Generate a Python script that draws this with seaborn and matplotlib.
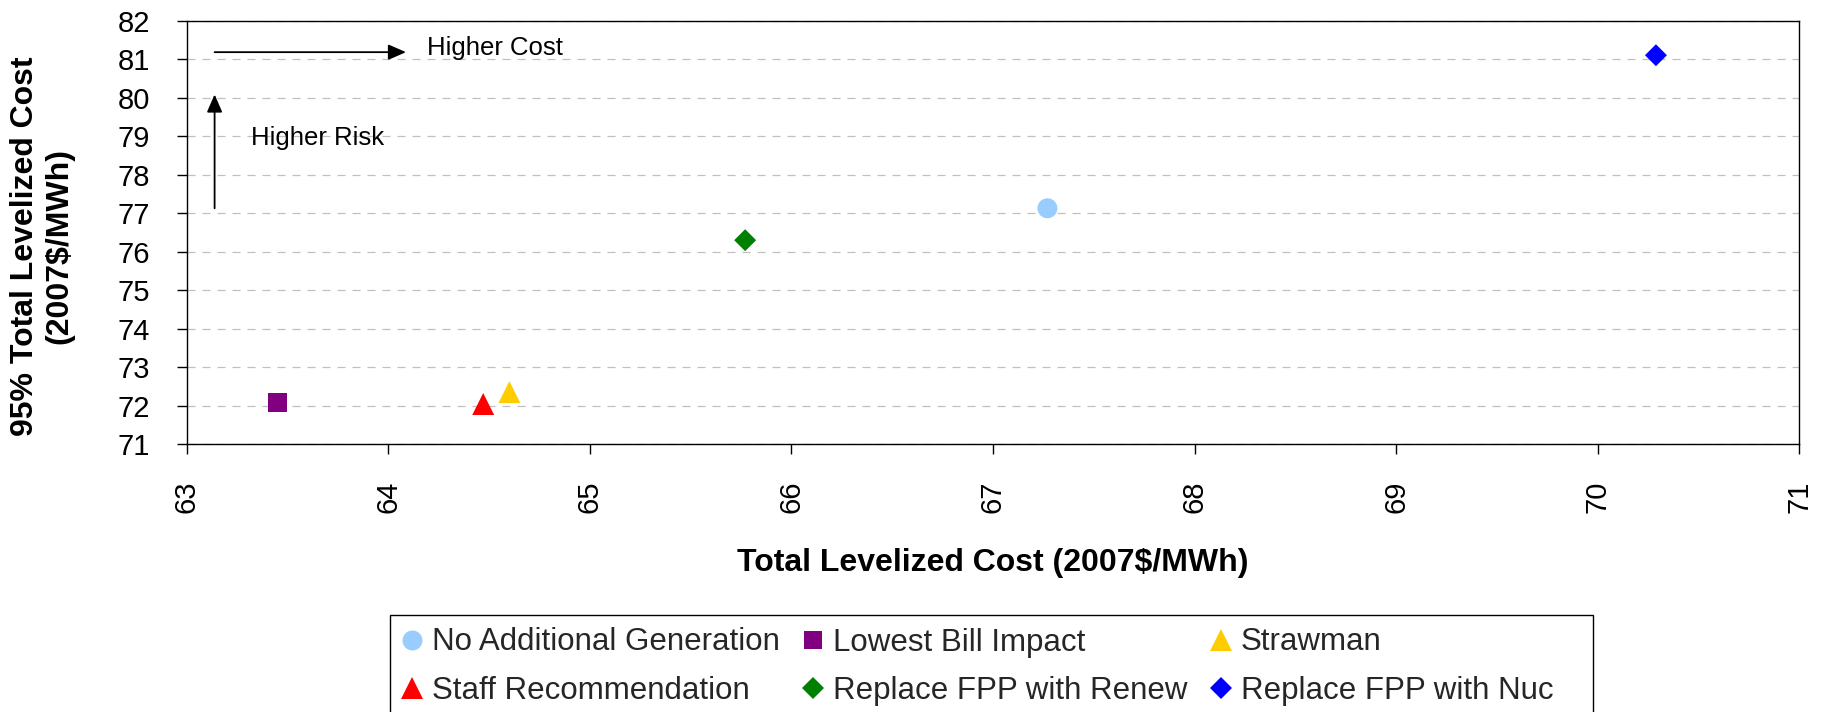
import numpy as np
import pandas as pd
import matplotlib
matplotlib.use("Agg")
import matplotlib.pyplot as plt
import seaborn as sns
from matplotlib.lines import Line2D
from matplotlib.patches import Rectangle

# ---- data ----
names = ["No Additional Generation", "Lowest Bill Impact", "Strawman",
         "Staff Recommendation", "Replace FPP with Renew", "Replace FPP with Nuc"]
total_cost = [67.27, 63.45, 64.60, 64.47, 65.77, 70.29]
risk_cost = [77.13, 72.07, 72.35, 72.04, 76.30, 81.11]
colors = ["#99CCFF", "#800080", "#FFCC00", "#FF0000", "#008000", "#0000FF"]
marker_shapes = ["o", "s", "^", "^", "D", "D"]
marker_areas = [207, 187, 250, 250, 125, 125]
x_ticks = list(range(63, 72))
y_ticks = list(range(71, 83))

df = pd.DataFrame({"name": names, "cost": total_cost, "risk": risk_cost})

sns.set_theme(style="white")
plt.rcParams["font.family"] = ["Liberation Sans", "DejaVu Sans"]
plt.rcParams["lines.scale_dashes"] = False

fig = plt.figure(figsize=(18.22, 7.12), dpi=100)
ax = fig.add_axes([0.10263, 0.37640, 0.88475, 0.59410])

sns.scatterplot(data=df, x="cost", y="risk", hue="name", style="name", size="name",
                palette=dict(zip(names, colors)),
                markers=dict(zip(names, marker_shapes)),
                sizes=dict(zip(names, marker_areas)),
                linewidth=0, legend=False, ax=ax, zorder=3)

ax.set_xlim(63, 71)
ax.set_ylim(71, 82)
ax.set_xticks(x_ticks)
ax.set_yticks(y_ticks)
ax.yaxis.grid(True, color="#C0C0C0", linestyle=(0, (5.8, 5.0)), linewidth=0.9)
ax.xaxis.grid(False)
ax.set_axisbelow(True)
for sp in ax.spines.values():
    sp.set_visible(True)
    sp.set_color("black")
    sp.set_linewidth(1.0)

ax.tick_params(axis="both", direction="out", length=7, width=1, color="black",
               labelsize=21, pad=19.5, bottom=True, left=True, labelcolor="black")
ax.tick_params(axis="x", labelrotation=90)

ax.set_xlabel("Total Levelized Cost (2007$/MWh)", fontsize=23, fontweight="bold", color="black")
ax.xaxis.set_label_coords(0.5, -0.2813)
ax.xaxis.label.set_va("center")
ax.set_ylabel("95% Total Levelized Cost\n(2007$/MWh)", fontsize=23, fontweight="bold", color="black")
ax.yaxis.set_label_coords(-0.0896, 0.468)
ax.yaxis.label.set_va("center")

arrow_style = dict(arrowstyle="-|>,head_length=0.54,head_width=0.235", mutation_scale=20,
                   color="black", lw=1.3, shrinkA=0, shrinkB=0)
ax.annotate("", xy=(64.087, 81.19), xytext=(63.137, 81.19), arrowprops=arrow_style)
ax.annotate("", xy=(63.137, 80.09), xytext=(63.137, 77.13), arrowprops=arrow_style)
ax.text(64.19, 81.31, "Higher Cost", fontsize=18.5, va="center", ha="left", color="black")
ax.text(63.32, 78.95, "Higher Risk", fontsize=18.5, va="center", ha="left", color="black")

handles = [Line2D([], [], linestyle="none", marker=m, color=c, markeredgewidth=0,
                  markersize=np.sqrt(a)) for m, c, a in zip(marker_shapes, colors, marker_areas)]
order = [0, 3, 1, 4, 2, 5]
leg = ax.legend([handles[i] for i in order], [names[i] for i in order], ncol=3,
                loc="upper left", bbox_to_anchor=(390 / 1822, 1 - 615 / 712),
                bbox_transform=fig.transFigure, borderaxespad=0, frameon=False,
                fontsize=22.5, handlelength=0.6, handletextpad=0.35, columnspacing=0.75,
                labelspacing=0.6, borderpad=0.4)

# legend frame (extends past the bottom edge of the figure, as in the original)
fig.patches.append(Rectangle((390 / 1822, -0.05), (1593 - 390) / 1822, (712 - 615) / 712 + 0.05,
                             transform=fig.transFigure, fill=False, edgecolor="black",
                             linewidth=1.0, zorder=0))

fig.savefig("out.png", dpi=100, facecolor="white")
